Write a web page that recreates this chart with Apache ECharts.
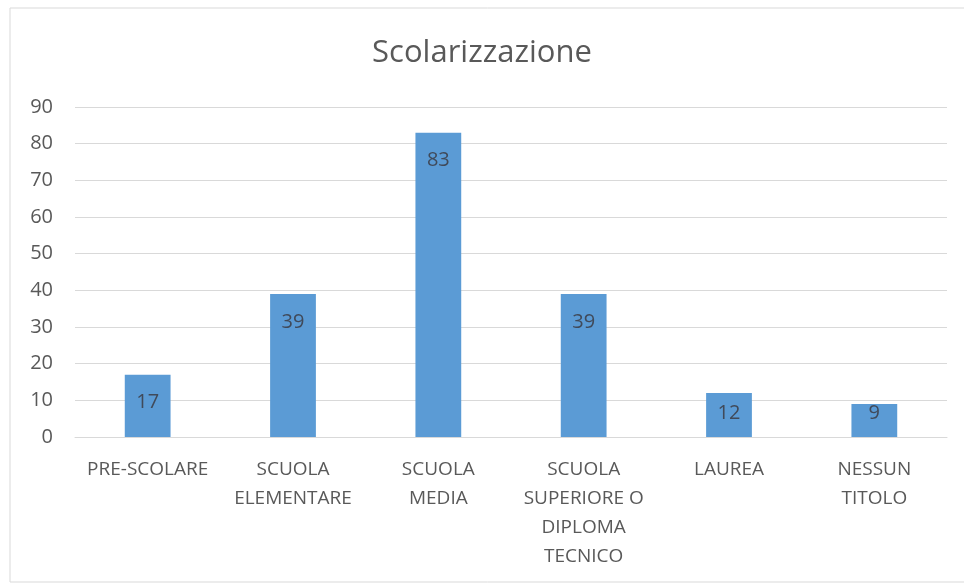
<!DOCTYPE html>
<html>
<head>
<meta charset="utf-8">
<script src="https://cdn.jsdelivr.net/npm/echarts@6/dist/echarts.min.js"></script>
<style>
  html, body { margin: 0; padding: 0; background: #fff; }
  #main { width: 964px; height: 585px; }
</style>
</head>
<body>
<div id="main"></div>
<script>
// data
var categories = [
  "PRE-SCOLARE",
  "SCUOLA\nELEMENTARE",
  "SCUOLA\nMEDIA",
  "SCUOLA\nSUPERIORE O\nDIPLOMA\nTECNICO",
  "LAUREA",
  "NESSUN\nTITOLO"
];
var values = [17, 39, 83, 39, 12, 9];
var yTicks = [0, 10, 20, 30, 40, 50, 60, 70, 80, 90];

var font = "'Open Sans', sans-serif";

var option = {
  animation: false,
  backgroundColor: "#fff",
  graphic: [{
    type: "rect",
    shape: { x: 10, y: 8, width: 960, height: 574 },
    style: { fill: "none", stroke: "#d9d9d9", lineWidth: 1 }
  }],
  title: {
    text: "Scolarizzazione",
    left: "center",
    top: 33,
    textStyle: { fontFamily: font, fontSize: 31, fontWeight: "normal", color: "#595959" }
  },
  grid: { left: 75, right: 17, top: 107, bottom: 148 },
  xAxis: {
    type: "category",
    data: categories,
    axisLine: { lineStyle: { color: "#d9d9d9" } },
    axisTick: { show: false },
    axisLabel: {
      interval: 0,
      margin: 18,
      color: "#595959",
      fontFamily: font,
      fontSize: 19,
      lineHeight: 29
    }
  },
  yAxis: {
    type: "value",
    min: yTicks[0],
    max: yTicks[yTicks.length - 1],
    interval: 10,
    axisLine: { show: false },
    axisTick: { show: false },
    splitLine: { lineStyle: { color: "#d9d9d9" } },
    axisLabel: { color: "#595959", fontFamily: font, fontSize: 20, margin: 22 }
  },
  series: [{
    type: "bar",
    data: values,
    barWidth: "31.5%",
    itemStyle: { color: "#5b9bd5" },
    label: {
      show: true,
      position: "insideTop",
      color: "#404a5a",
      fontFamily: font,
      fontSize: 20
    },
    // Excel-ish "inside end": near the top, but not too low in short bars
    labelLayout: function (p) {
      var r = p.rect;
      var cy = Math.min(r.y + 28, r.y + r.height - 24);
      return { x: r.x + r.width / 2, y: cy, align: "center", verticalAlign: "middle" };
    }
  }]
};

var chartDom = document.getElementById("main");
var myChart = echarts.init(chartDom);
option && myChart.setOption(option);
</script>
</body>
</html>
